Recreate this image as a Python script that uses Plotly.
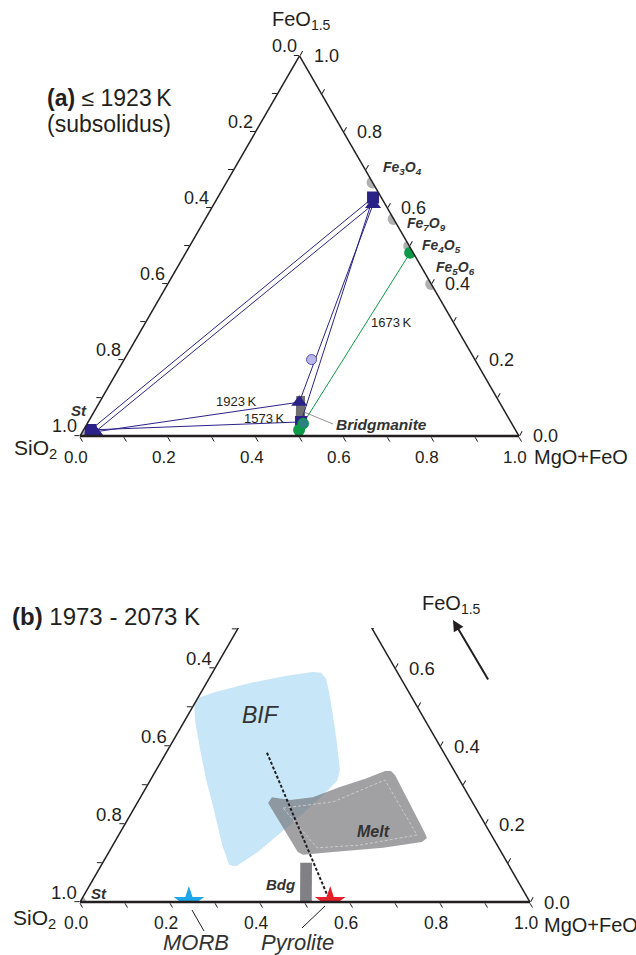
import math
import plotly.graph_objects as go

INK = "#231f20"
NAVY = "#2b2288"
GREEN = "#0c9a48"
FONT = "Liberation Sans, Arial, sans-serif"

# ---------------- panel (a) data ----------------
# ternary components: FeO1.5 (top), SiO2 (left), MgO+FeO (right)
oxide_names = ["Fe3O4", "Fe7O9", "Fe4O5", "Fe5O6", "St"]
oxide_feo15 = [0.667, 0.571, 0.500, 0.400, 0.000]
oxide_sio2 = [0.000, 0.000, 0.000, 0.000, 1.000]
oxide_mgfe = [0.333, 0.429, 0.500, 0.600, 0.000]

run1573_feo15 = [0.016, 0.627, 0.037]
run1573_sio2 = [0.968, 0.019, 0.478]
run1573_mgfe = [0.016, 0.354, 0.485]

run1923_feo15 = [0.011, 0.609, 0.089]
run1923_sio2 = [0.960, 0.028, 0.456]
run1923_mgfe = [0.029, 0.363, 0.455]

hatched_blue_feo15 = [0.201]
hatched_blue_sio2 = [0.372]
hatched_blue_mgfe = [0.427]

run1673_feo15 = [0.482, 0.016]
run1673_sio2 = [0.007, 0.493]
run1673_mgfe = [0.511, 0.491]

hatched_green_feo15 = [0.033]
hatched_green_sio2 = [0.475]
hatched_green_mgfe = [0.492]

bdg_a_feo15 = [0.047, 0.047, 0.105, 0.105]
bdg_a_mgfe = [0.468, 0.489, 0.460, 0.440]

# ---------------- panel (b) data ----------------
bif_feo15 = [0.467, 0.508, 0.524, 0.539, 0.562, 0.580, 0.590, 0.588, 0.572, 0.539,
             0.480, 0.403, 0.339, 0.311, 0.267, 0.198, 0.128, 0.092, 0.095, 0.146,
             0.244, 0.313, 0.390]
bif_mgfe = [0.022, 0.000, 0.002, 0.031, 0.097, 0.166, 0.221, 0.242, 0.261, 0.284,
            0.322, 0.370, 0.408, 0.416, 0.400, 0.368, 0.331, 0.301, 0.284, 0.243,
            0.174, 0.124, 0.072]

melt_feo15 = [0.254, 0.269, 0.262, 0.269, 0.295, 0.316, 0.336, 0.336, 0.326, 0.177,
              0.164, 0.154, 0.139, 0.128, 0.121, 0.128]
melt_mgfe = [0.291, 0.292, 0.336, 0.383, 0.430, 0.476, 0.510, 0.523, 0.537, 0.678,
             0.689, 0.683, 0.604, 0.498, 0.435, 0.420]

melt_core_feo15 = [0.241, 0.257, 0.313, 0.172, 0.146, 0.139, 0.241]
melt_core_mgfe = [0.331, 0.434, 0.521, 0.663, 0.549, 0.457, 0.331]

bdg_b_feo15 = [0.000, 0.000, 0.101, 0.101]
bdg_b_mgfe = [0.489, 0.515, 0.465, 0.439]

trend_feo15 = [0.383, 0.000]
trend_mgfe = [0.224, 0.556]

morb_mgfe = [0.242]
pyrolite_mgfe = [0.556]

tick_vals = [i / 10 for i in range(11)]
major_vals = [0.0, 0.2, 0.4, 0.6, 0.8, 1.0]


def rest(a_list, c_list):
    return [round(1 - a - c, 4) for a, c in zip(a_list, c_list)]


def axis(lw):
    return dict(
        title=dict(text=""),
        tickmode="array", tickvals=tick_vals, showticklabels=False,
        ticks="outside", ticklen=5, tickwidth=1, tickcolor=INK,
        linecolor=INK, linewidth=lw, showgrid=False, min=0,
    )


fig = go.Figure()


def add(sub, a, b, c, **kw):
    fig.add_trace(go.Scatterternary(a=a, b=b, c=c, subplot=sub, hoverinfo="skip",
                                    showlegend=False, **kw))


# ---- panel (a) traces ----
add("ternary", oxide_feo15, oxide_sio2, oxide_mgfe, mode="markers",
    marker=dict(size=12, color="#a7a7a9", opacity=0.9))
add("ternary", bdg_a_feo15, rest(bdg_a_feo15, bdg_a_mgfe), bdg_a_mgfe, mode="lines",
    fill="toself", fillcolor="#6f6f72", line=dict(width=0, color="#6f6f72"))
loop = [0, 1, 2, 0]
add("ternary", [run1573_feo15[i] for i in loop], [run1573_sio2[i] for i in loop],
    [run1573_mgfe[i] for i in loop], mode="lines", line=dict(color=NAVY, width=1))
add("ternary", [run1923_feo15[i] for i in loop], [run1923_sio2[i] for i in loop],
    [run1923_mgfe[i] for i in loop], mode="lines", line=dict(color=NAVY, width=1))
add("ternary", run1673_feo15, run1673_sio2, run1673_mgfe, mode="lines",
    line=dict(color=GREEN, width=1))
add("ternary", run1573_feo15, run1573_sio2, run1573_mgfe, mode="markers",
    marker=dict(symbol="square", size=12, color=NAVY))
add("ternary", run1923_feo15, run1923_sio2, run1923_mgfe, mode="markers",
    marker=dict(symbol="triangle-up", size=14, color=NAVY))
add("ternary", hatched_blue_feo15, hatched_blue_sio2, hatched_blue_mgfe, mode="markers",
    marker=dict(size=10, color="#b9b6e8", line=dict(color="#5a52b0", width=1)))
add("ternary", run1673_feo15, run1673_sio2, run1673_mgfe, mode="markers",
    marker=dict(size=12, color=GREEN))
add("ternary", hatched_green_feo15, hatched_green_sio2, hatched_green_mgfe, mode="markers",
    marker=dict(size=10, color="#2f7f86", line=dict(color=GREEN, width=1.5)))

# ---- panel (b) traces ----
add("ternary2", bif_feo15 + bif_feo15[:1], rest(bif_feo15, bif_mgfe) + rest(bif_feo15, bif_mgfe)[:1],
    bif_mgfe + bif_mgfe[:1], mode="lines", fill="toself", fillcolor="#c7e6f7",
    line=dict(width=0, color="#c7e6f7"))
add("ternary2", melt_feo15 + melt_feo15[:1], rest(melt_feo15, melt_mgfe) + rest(melt_feo15, melt_mgfe)[:1],
    melt_mgfe + melt_mgfe[:1], mode="lines", fill="toself", fillcolor="rgba(108,108,112,0.64)",
    line=dict(width=0, color="rgba(0,0,0,0)"))
add("ternary2", melt_core_feo15, rest(melt_core_feo15, melt_core_mgfe), melt_core_mgfe,
    mode="lines", line=dict(color="#d6d6d6", width=0.8, dash="3px,2px"))
add("ternary2", bdg_b_feo15 + bdg_b_feo15[:1], rest(bdg_b_feo15, bdg_b_mgfe) + rest(bdg_b_feo15, bdg_b_mgfe)[:1],
    bdg_b_mgfe + bdg_b_mgfe[:1], mode="lines", fill="toself", fillcolor="#818185",
    line=dict(width=0, color="#818185"))
add("ternary2", trend_feo15, rest(trend_feo15, trend_mgfe), trend_mgfe, mode="lines",
    line=dict(color=INK, width=2, dash="3px,2px"))
add("ternary2", [0.0], [1.0], [0.0], mode="markers",
    marker=dict(size=12, color="#a7a7a9", opacity=0.9))
add("ternary2", [0.0], [1 - morb_mgfe[0]], morb_mgfe, mode="markers",
    marker=dict(symbol="star", size=23, color="#1fa7ea", line=dict(width=0)))
add("ternary2", [0.0], [1 - pyrolite_mgfe[0]], pyrolite_mgfe, mode="markers",
    marker=dict(symbol="star", size=23, color="#e5202a", line=dict(width=0)))

W, H = 636, 955
ROOT3_2 = math.sqrt(3) / 2


def px(x, y):
    return x / W, 1 - y / H


# panel geometry: left corner x, right corner x, baseline y (pixels)
PANEL_A = (80, 519, 436)
PANEL_B = (80, 530, 902)


def tern_layout(geom):
    x0, x1, yb = geom
    top = yb - (x1 - x0) * ROOT3_2
    return dict(
        domain=dict(x=[x0 / W, x1 / W], y=[1 - yb / H, 1 - top / H]),
        sum=1, bgcolor="rgba(0,0,0,0)",
        aaxis=axis(1.5), baxis=axis(2.5), caxis=axis(1.5),
    )


annotations = []


def label(x, y, text, size=13, anchor="center", color=INK):
    xx, yy = px(x, y)
    annotations.append(dict(x=xx, y=yy, xref="paper", yref="paper", text=text,
                            showarrow=False, xanchor=anchor, yanchor="middle",
                            font=dict(size=size, color=color, family=FONT)))


def edge_labels(geom, amax, side_size, bottom_size):
    x0, x1, yb = geom
    wt = x1 - x0
    ht = wt * ROOT3_2
    for v in major_vals:
        if v <= amax + 1e-9:
            ye = yb - ht * v
            # left edge: SiO2 content (FeO1.5 = v, MgO+FeO = 0)
            label(x0 + wt * v / 2 - 1, ye - 10, f"{1 - v:.1f}", side_size, "right")
            # right edge: FeO1.5 content (SiO2 = 0)
            label(x1 - wt * v / 2 + 12, ye, f"{v:.1f}", side_size, "left")
        # bottom edge: MgO+FeO content
        label(x0 + wt * v - 4, yb + 21, f"{v:.1f}", bottom_size)


edge_labels(PANEL_A, 1.0, 18, 17)
edge_labels(PANEL_B, 0.65, 18.5, 17.5)

label(45, 98, "<b>(a)</b> \u2264 1923\u2009K", 23, "left")
label(45, 124, "(subsolidus)", 23, "left")
label(10, 616, "<b>(b)</b> 1973 - 2073 K", 24, "left")

# corner titles
label(301, 20, "FeO<sub>1.5</sub>", 20)
label(35, 449, "SiO<sub>2</sub>", 21)
label(532, 457, "MgO+FeO", 20, "left")
label(34, 919, "SiO<sub>2</sub>", 21)
label(542, 925, "MgO+FeO", 20, "left")

label(79, 410, "<b><i>St</i></b>", 15, color="#333333")
label(402, 168, "<b><i>Fe<sub>3</sub>O<sub>4</sub></i></b>", 14, color="#333333")
label(426, 224, "<b><i>Fe<sub>7</sub>O<sub>9</sub></i></b>", 14, color="#333333")
label(441, 246, "<b><i>Fe<sub>4</sub>O<sub>5</sub></i></b>", 14, color="#333333")
label(456, 268, "<b><i>Fe<sub>5</sub>O<sub>6</sub></i></b>", 14, color="#333333")
label(381, 424, "<b><i>Bridgmanite</i></b>", 15.5, color="#333333")
label(237, 402, "1923\u2009K", 13)
label(264, 418, "1573\u2009K", 13)
label(391, 322, "1673\u2009K", 13)

label(99, 893, "<b><i>St</i></b>", 15, color="#333333")
label(280, 884, "<b><i>Bdg</i></b>", 15, color="#333333")
label(373, 831, "<b><i>Melt</i></b>", 16, color="#333333")
label(261, 715, "<i>BIF</i>", 23, color="#333333")
label(196, 942, "<i>MORB</i>", 22, color="#333333")
label(297, 942, "<i>Pyrolite</i>", 22, color="#333333")
label(451, 604, "FeO<sub>1.5</sub>", 20)

tip = px(453, 620)
annotations.append(dict(x=tip[0], y=tip[1], xref="paper", yref="paper", text="",
                        showarrow=True, ax=36, ay=61, axref="pixel", ayref="pixel",
                        arrowhead=2, arrowsize=1.1, arrowwidth=2, arrowcolor=INK))

shapes = []


def seg(p, q, color=INK, width=1):
    x0, y0 = px(*p)
    x1, y1 = px(*q)
    shapes.append(dict(type="line", xref="paper", yref="paper", x0=x0, y0=y0, x1=x1, y1=y1,
                       line=dict(color=color, width=width), layer="above"))


# mask the upper (open) part of the truncated diagram (b)
_, my0 = px(0, 628)
_, my1 = px(0, 472)
shapes.append(dict(type="rect", xref="paper", yref="paper", x0=-0.05, x1=1.05,
                   y0=my0, y1=my1, fillcolor="white", line=dict(width=0), layer="above"))
seg((304, 412), (333, 424), "#777777", 0.8)
seg((192, 910), (204, 931), INK, 1)
seg((325, 906), (302, 928), INK, 1)

fig.update_layout(
    width=W, height=H, margin=dict(l=0, r=0, t=0, b=0),
    paper_bgcolor="white", plot_bgcolor="white",
    font=dict(family=FONT, color=INK),
    ternary=tern_layout(PANEL_A),
    ternary2=tern_layout(PANEL_B),
    annotations=annotations, shapes=shapes, showlegend=False,
)

fig.write_html("out.html", config={"displayModeBar": False},
               post_script="document.body.style.margin='0';document.body.style.overflow='hidden';")
